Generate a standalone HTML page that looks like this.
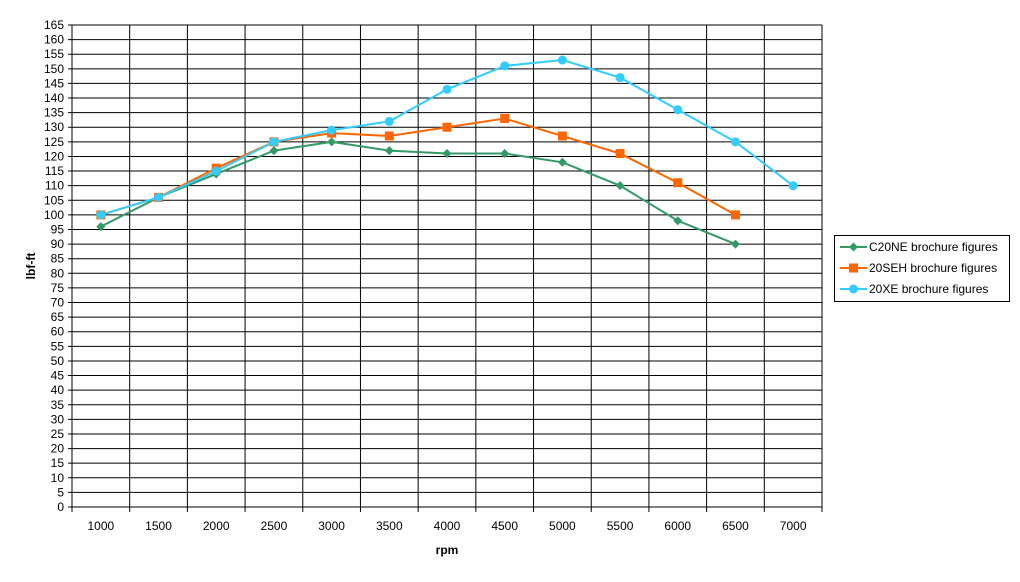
<!DOCTYPE html>
<html><head><meta charset="utf-8"><style>
body{margin:0;background:#fff;width:1020px;height:577px;overflow:hidden}
svg{font-family:"Liberation Sans",Arial,sans-serif;font-size:12px}
</style></head><body>
<svg id="chart" width="1020" height="577" xmlns="http://www.w3.org/2000/svg"></svg>
<script>
const categories=[1000,1500,2000,2500,3000,3500,4000,4500,5000,5500,6000,6500,7000];
const seriesNames=["C20NE brochure figures","20SEH brochure figures","20XE brochure figures"];
const c20ne=[96,106,114,122,125,122,121,121,118,110,98,90];
const s20seh=[100,106,116,125,128,127,130,133,127,121,111,100];
const x20xe=[100,106,115,125,129,132,143,151,153,147,136,125,110];
const yMax=165, yStep=5;
const L=72,R=822,T=25,B=507;
const NS="http://www.w3.org/2000/svg";
const svg=document.getElementById('chart');
const bw=(R-L)/categories.length;
const xs=i=>L+bw*(i+0.5);
const ys=v=>B-(v/yMax)*(B-T);
function mk(t,a,p){const e=document.createElementNS(NS,t);for(const k in a)e.setAttribute(k,a[k]);(p||svg).appendChild(e);return e;}
const grid=mk('g',{});


for(let v=0;v<=yMax;v+=yStep){const y=ys(v);
 mk('line',{x1:L-4,x2:R,y1:y,y2:y,stroke:'#000','stroke-width':1},grid);
 const t=mk('text',{x:L-8,y:y+4,'text-anchor':'end','font-size':12},grid);t.textContent=v;
 
 }
for(let i=0;i<=categories.length;i++){const x=L+bw*i;
 mk('line',{x1:x,x2:x,y1:T,y2:B+5,stroke:'#000','stroke-width':1},grid);}
categories.forEach((c,i)=>{const t=mk('text',{x:xs(i),y:B+23,'text-anchor':'middle','font-size':12});t.textContent=c;
 
 });
let t=mk('text',{x:447,y:554,'text-anchor':'middle','font-weight':'bold','font-size':12});t.textContent='rpm';


t=mk('text',{x:0,y:0,transform:'translate(35,266) rotate(-90)','text-anchor':'middle','font-weight':'bold','font-size':12});t.textContent='lbf-ft';


const colors=['#339966','#ff6600','#33ccff'];
const data=[c20ne,s20seh,x20xe];
function marker(k,x,y,g){
 if(k===0)return mk('polygon',{points:`${x},${y-4.5} ${x+4.5},${y} ${x},${y+4.5} ${x-4.5},${y}`,fill:colors[0]},g);
 if(k===1)return mk('rect',{x:x-4.5,y:y-4.5,width:9,height:9,fill:colors[1]},g);
 return mk('circle',{cx:x,cy:y,r:4.5,fill:colors[2]},g);}
data.forEach((d,k)=>{const g=mk('g',{});
 
 
 mk('polyline',{points:d.map((v,i)=>xs(i)+','+ys(v)).join(' '),fill:'none',stroke:colors[k],'stroke-width':2},g);
 d.forEach((v,i)=>{const m=marker(k,xs(i),ys(v),g);
  
  });});
const lg=mk('g',{});


mk('rect',{x:834.5,y:235.5,width:175,height:66,fill:'#fff',stroke:'#000'},lg);
seriesNames.forEach((n,k)=>{const y=247+k*21;
 mk('line',{x1:840,x2:867,y1:y,y2:y,stroke:colors[k],'stroke-width':2},lg);
 marker(k,853.5,y,lg);
 const tt=mk('text',{x:869,y:y+4,'font-size':12},lg);tt.textContent=n;
 
 });
</script>
</body></html>
